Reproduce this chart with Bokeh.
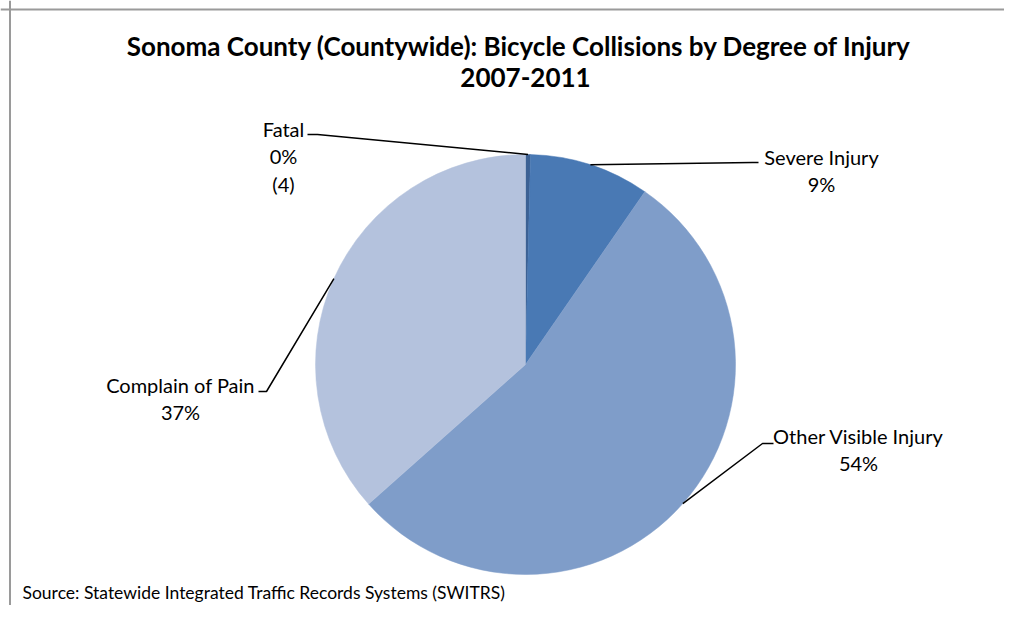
import math
from bokeh.plotting import figure
from bokeh.models import Range1d, Span, ColumnDataSource
from bokeh.core.properties import value
from bokeh.embed import file_html
from bokeh.resources import INLINE

# ---------------- data ----------------
categories = ["Fatal", "Severe Injury", "Other Visible Injury", "Complain of Pain"]
counts = [4, 97, 565, 384]
show_count = [True, False, False, False]
slice_colors = ["#3C6194", "#4979B4", "#7F9DC9", "#B4C2DD"]
title_lines = ["Sonoma County (Countywide):  Bicycle Collisions  by Degree of Injury", "2007-2011"]
source_note = "Source: Statewide Integrated Traffic Records Systems (SWITRS)"

# ---------------- layout (screen px -> data: x = sx, y = 621 - sy) ----------------
W, H = 1004, 605
def Y(sy):
    return 621 - sy

cx, cy, r = 525, Y(364), 210
label_pos = [(283, Y(156)), (821, Y(170)), (858, Y(449)), (180, Y(398))]
elbows = [(317, Y(134)), (752, Y(162)), (762, Y(443)), (266, Y(391))]
ends = [(307, Y(134)), (758, Y(162)), (773, Y(443)), (258, Y(391))]

p = figure(width=W, height=H, output_backend="svg", toolbar_location=None,
           x_range=Range1d(0, W), y_range=Range1d(Y(H), Y(0)),
           x_axis_type=None, y_axis_type=None, min_border=0,
           outline_line_color=None, background_fill_color="white",
           border_fill_color="white")
p.xgrid.visible = False
p.ygrid.visible = False

total = sum(counts)
fr = [c / total for c in counts]
cum = [0.0]
for f in fr:
    cum.append(cum[-1] + f)

starts = [math.pi / 2 - 2 * math.pi * cum[i + 1] for i in range(len(counts))]
endsang = [math.pi / 2 - 2 * math.pi * cum[i] for i in range(len(counts))]

src = ColumnDataSource(dict(start=starts, end=endsang, color=slice_colors, cat=categories))
p.wedge(x=cx, y=cy, radius=r, start_angle="start", end_angle="end",
        fill_color="color", line_color="color", line_width=0.5, source=src)

# leader lines
xs, ys = [], []
for i in range(len(counts)):
    mid = (cum[i] + cum[i + 1]) / 2 * 2 * math.pi
    ax = cx + r * math.sin(mid)
    ay = cy + r * math.cos(mid)
    xs.append([ax, elbows[i][0], ends[i][0]])
    ys.append([ay, elbows[i][1], ends[i][1]])
p.multi_line(xs=xs, ys=ys, line_color="black", line_width=1.5)

# labels
labels = []
for i, c in enumerate(categories):
    t = f"{c}\n{round(100 * fr[i])}%"
    if show_count[i]:
        t += f"\n({counts[i]})"
    labels.append(t)
p.text(x=[lp[0] for lp in label_pos], y=[lp[1] for lp in label_pos], text=labels,
       text_font=value("Lato"), text_font_size=value("20px"), text_color="#000000",
       text_align="center", text_baseline="middle", text_line_height=1.15)

# title
p.text(x=[525, 525], y=[Y(45), Y(77)], text=title_lines,
       text_font=value("Lato"), text_font_size=value("26px"), text_font_style="bold",
       text_color="#000000", text_align="center", text_baseline="middle")

# source note
p.text(x=[22], y=[Y(592)], text=[source_note],
       text_font=value("Lato"), text_font_size=value("17.5px"), text_color="#000000",
       text_align="left", text_baseline="middle")

# chart frame (top and left edges)
p.add_layout(Span(location=Y(9), dimension="width", line_color="#9a9a9a", line_width=2))
p.add_layout(Span(location=9.5, dimension="height", line_color="#9a9a9a", line_width=2))

open("out.html", "w").write(file_html(p, INLINE))
